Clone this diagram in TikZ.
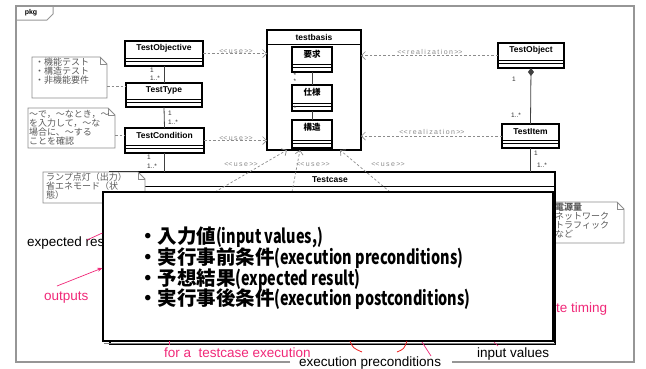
\documentclass[tikz,border=0pt]{standalone}
\usepackage{fontspec}
\usepackage{graphicx}
\setmainfont{Liberation Sans}
\newfontfamily\jp{Noto Sans CJK JP}
\newfontfamily\lsp[LetterSpace=20]{Liberation Sans}
\usetikzlibrary{arrows.meta,calc}
\definecolor{pinkc}{RGB}{240,40,120}
\definecolor{redc}{RGB}{238,30,30}
\definecolor{frameg}{RGB}{150,150,150}
\definecolor{depg}{RGB}{140,140,140}
\definecolor{notetext}{RGB}{90,90,90}
\newcommand\lat[1]{\scalebox{0.74}[1]{#1}}
\newcommand\opg{<\kern0pt<}
\newcommand\clg{>\kern0pt>}
\tikzset{
 cls/.style={draw=black, line width=1.3pt, fill=white, rectangle, inner sep=0pt, outer sep=0pt},
 clsname/.style={font=\fontsize{8.5}{9}\selectfont\bfseries, inner sep=0pt},
 jpname/.style={font=\jp\fontsize{8.5}{9}\selectfont\bfseries, inner sep=0pt},
 dep/.style={draw=depg, dash pattern=on 2.5pt off 2pt, line width=0.7pt, -{Straight Barb[length=4pt,width=8pt]}},
 deplbl/.style={font=\lsp\fontsize{7}{7}\selectfont, text=depg, inner sep=0pt},
 notelink/.style={draw=depg, dash pattern=on 2.5pt off 2pt, line width=0.7pt},
 assoc/.style={draw=black!75, line width=0.8pt},
 mult/.style={font=\fontsize{6.5}{6.5}\selectfont, inner sep=0pt, text=black!80},
 notebox/.style={draw=depg, line width=0.8pt, fill=white},
 notetxt/.style={font=\jp\fontsize{9}{9}\selectfont, text=notetext, inner sep=0pt, align=left, anchor=north west},
 anno/.style={font=\fontsize{13.5}{14}\selectfont, inner sep=0pt, anchor=base west},
 pinkline/.style={draw=pinkc, line width=0.7pt},
 bigtxt/.style={font=\jp\fontsize{19.5}{21}\selectfont\bfseries, inner sep=0pt, anchor=base west},
}
% class box: [name style]{node}{x1}{y1}{x2}{y2}{label}
\newcommand\umlcls[7][clsname]{%
 \node[cls, minimum width={(#5-#3)*1pt}, minimum height={(#6-#4)*1pt}] (#2) at ({(#3+#5)/2},{(#4+#6)/2}) {};
 \draw[line width=0.6pt] (#3,{#6-8}) -- (#5,{#6-8}) (#3,{#6-4.5}) -- (#5,{#6-4.5});
 \node[#1] at ({(#3+#5)/2},{#4+7.5}) {#7};
}
% note box: {node}{x1}{y1}{x2}{y2}
\newcommand\umlnote[5]{%
 \path[notebox] (#2,#3) -- ({#4-7},#3) -- (#4,{#3+7}) -- (#4,#5) -- (#2,#5) -- cycle;
 \draw[depg, line width=0.6pt] ({#4-7},#3) -- ({#4-7},{#3+7}) -- (#4,{#3+7});
 \node[inner sep=0pt, outer sep=0pt, minimum width={(#4-#2)*1pt}, minimum height={(#5-#3)*1pt}] (#1) at ({(#2+#4)/2},{(#3+#5)/2}) {};
}
\begin{document}
\begin{tikzpicture}[x=1pt,y=-1pt]
\useasboundingbox (0,0) rectangle (646,368);
% package frame
\draw[frameg, line width=1.2pt] (290,362) -- (16,362) -- (16,6) -- (634,6) -- (634,362) -- (452,362);
\draw[frameg, line width=1pt] (16,20) -- (47,20) -- (53,14) -- (53,6);
\node[font=\fontsize{7}{7}\selectfont\bfseries, inner sep=0pt] (pkg) at (31,13) {pkg};

% classes
\umlcls{tobj}{125}{41}{203}{66}{TestObjective}
\umlcls{ttype}{126}{83}{202}{107}{TestType}
\umlcls{tcond}{125}{128}{204}{153}{TestCondition}
\node[cls, minimum width=94pt, minimum height=120pt] (tb) at (314,90) {};
\draw[line width=0.6pt] (267,44) -- (361,44);
\node[clsname] at (314,37) {testbasis};
\umlcls[jpname]{req}{292}{47}{332}{72}{要求}
\umlcls[jpname]{spec}{292}{85}{332}{111}{仕様}
\umlcls[jpname]{struct}{292}{120}{332}{148}{構造}
\umlcls{tobject}{498}{43}{564}{68}{TestObject}
\umlcls{titem}{502}{124}{559}{148}{TestItem}

% associations inside testbasis
\draw[assoc] (req.south) -- (spec.north);
\draw[assoc] (spec.south) -- (struct.north);
\node[mult] at (295,75) {*};
\node[mult] at (295,81) {*};
\node[mult] at (295,108) {*};

% associations
\draw[assoc] (tobj.south) -- (ttype.north);
\draw[assoc] (ttype.south) -- (tcond.north);
\draw[assoc, {Diamond[length=8pt,width=6pt]}-] (tobject.south) -- (titem.north);
\node[mult] at (152,70) {1};
\node[mult] at (155,78) {1..*};
\node[mult] at (170,113) {1};
\node[mult] at (173,122) {1..*};
\node[mult] at (514,79) {1};
\node[mult] at (516,115) {1..*};

% dependencies
\draw[dep] (tobj.east) -- (tobj.east -| tb.west);
\node[deplbl] at (236,51) {\opg use\clg};
\draw[dep] (tcond.east) -- (tcond.east -| tb.west);
\node[deplbl] at (236,138) {\opg use\clg};
\draw[dep] (tobject.west) -- (tobject.west -| tb.east);
\node[deplbl] at (430,52) {\opg realization\clg};
\draw[dep] (titem.west) -- (titem.west -| tb.east);
\node[deplbl] at (432,132) {\opg realization\clg};

% notes
\umlnote{n1}{32}{57}{107}{98}
\node[notetxt] at (35,58) {・機能テスト\\・構造テスト\\・非機能要件};
\umlnote{n2}{28}{108}{115}{148}
\node[notetxt] at (29,110) {～で，～なとき，～\\を入力して，～な\\場合に、～する\\ことを確認};
\coordinate (l1) at (0,86);
\coordinate (l2) at (0,135);
\draw[notelink] (n1.east |- l1) -- (ttype.west |- l1);
\draw[notelink] (n2.east |- l2) -- (tcond.west |- l2);

% note behind Testcase
\umlnote{n4}{540}{202}{624}{243}
\node[notetxt] at (555,203) {{\bfseries 電源量}\\ネットワーク\\トラフィック\\など};

% Testcase
\node[cls, line width=1.2pt, minimum width=445pt, minimum height=172pt] (tc) at (332.5,258) {};
\draw[line width=0.6pt] (110,186) -- (555,186);
\node[clsname] at (330,180) {Testcase};
\draw[assoc] (tcond.south) -- (tcond.south |- tc.north);
\draw[assoc] (titem.south) -- (titem.south |- tc.north);
\node[mult] at (149,157) {1};
\node[mult] at (152,166) {1..*};
\node[mult] at (536,153) {1};
\node[mult] at (542,165) {1..*};

\coordinate (u1) at (215,192);
\coordinate (u2) at (292,192);
\coordinate (u3) at (390,192);
\draw[dep] (u1) -- ($(tb.south west)+(20,0)$);
\draw[dep] (u2) -- ($(tb.south west)+(33,0)$);
\draw[dep] (u3) -- ($(tb.south west)+(73,0)$);
\node[deplbl] at (241,164) {\opg use\clg};
\node[deplbl] at (313,164) {\opg use\clg};
\node[deplbl] at (388,164) {\opg use\clg};

% note in front of Testcase
\umlnote{n3}{43}{172}{145}{203}
\node[notetxt] at (46,173) {ランプ点灯（出力）\\省エネモード（状\\態）};

% annotations behind overlay
\node[anno] (aer) at (27,246) {expected res};

% overlay
\node[draw=black, line width=1.3pt, fill=white, minimum width=450pt, minimum height=149pt, inner sep=0pt] (ov) at (328,266.5) {};
\draw[gray, line width=1pt] (104,343.5) -- (555,343.5);
\node[bigtxt] (b1) at (138,243) {・入力値\lat{(input values,)}};
\node[bigtxt] (b2) at (138,264) {・実行事前条件\lat{(execution preconditions)}};
\node[bigtxt] (b3) at (138,285) {・予想結果\lat{(expected result)}};
\node[bigtxt] (b4) at (138,305) {・実行事後条件\lat{(execution postconditions)}};

% annotation texts and lines
\coordinate (l3) at (0,233);
\coordinate (l4) at (0,268);
\coordinate (erp) at (87,240);
\coordinate (otp) at (57,286);
\draw[pinkline] (erp) -- (ov.west |- l3);
\node[anno, text=pinkc] (aout) at (44,300) {outputs};
\draw[pinkline, -{Stealth[length=5pt,width=4pt]}] (otp) -- (ov.west |- l4);
\node[anno, text=pinkc] (afor) at (164,357) {for a~ testcase execution};
\node[anno] (aexe) at (299,366) {execution preconditions};
\node[anno] (ainp) at (477,357) {input values};
\node[anno, text=pinkc] (atim) at (556,312) {te timing};
\coordinate (p1) at (169,341);
\coordinate (p2) at (169,344.5);
\draw[pinkline] (p1) -- (p2);
\coordinate (r1a) at (350,341);
\coordinate (r1b) at (362,352);
\coordinate (r2a) at (397,352);
\coordinate (r2b) at (407,341);
\draw[redc, line width=0.8pt] (r1a) .. controls (353,348) .. (r1b);
\draw[redc, line width=0.8pt] (r2a) .. controls (404,349) .. (r2b);
\coordinate (p3) at (422,342);
\coordinate (p4) at (431,356);
\draw[pinkline] (p3) -- (p4);
\coordinate (p5) at (494,342);
\coordinate (p6) at (498,346);
\draw[pinkline] (p5) -- (p6);
\end{tikzpicture}
\end{document}
